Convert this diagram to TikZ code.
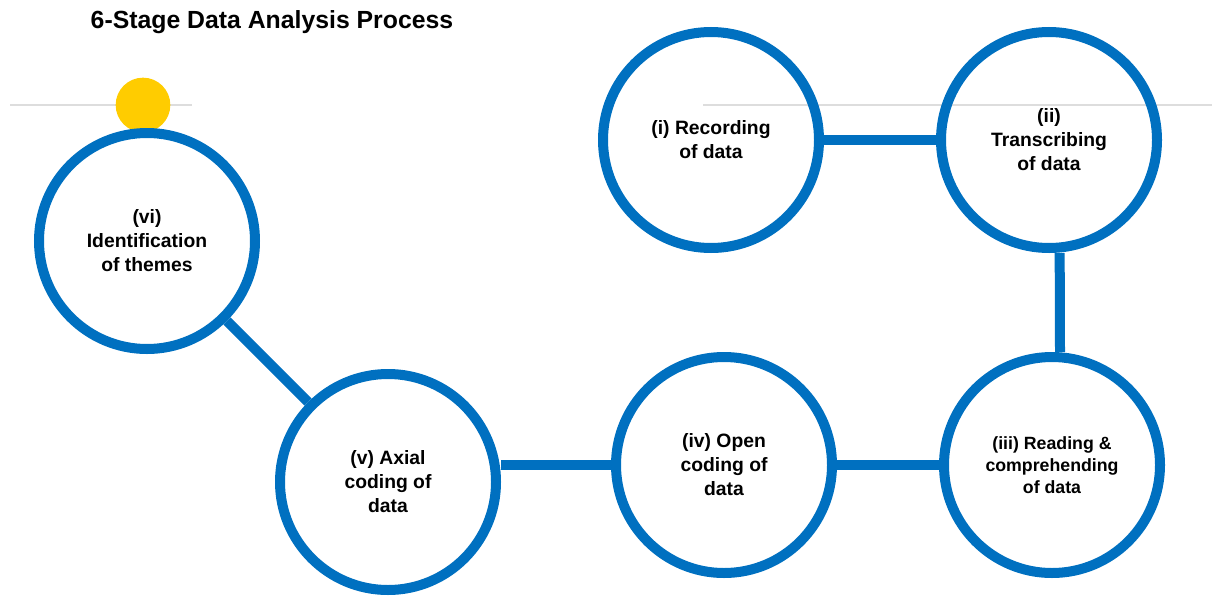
\documentclass[tikz,border=0pt]{standalone}
\usepackage{fontspec}
\setmainfont{Liberation Sans}
\usepackage{xcolor}
\definecolor{stageblue}{HTML}{0070C0}
\definecolor{dotyellow}{HTML}{FFCC00}
\definecolor{rulegray}{HTML}{DDDDDD}

\begin{document}
\begin{tikzpicture}[x=0.75pt, y=-0.75pt,
        stage/.style={circle, draw=stageblue, line width=7.5pt, minimum size=162pt, inner sep=0pt,
            align=center, font=\bfseries\fontsize{14.5}{18}\selectfont},
        link/.style={draw=stageblue, line width=7.5pt},
        rule/.style={draw=rulegray, line width=1.1pt}]
    \useasboundingbox (0,0) rectangle (1212,596);
    \node[anchor=west, font=\bfseries\fontsize{18.6}{22}\selectfont] (title) at (86,22) {6-Stage Data Analysis Process};

    \coordinate (ruleA) at (10,105);
    \coordinate (ruleB) at (192,105);
    \coordinate (ruleC) at (703,105);
    \coordinate (ruleD) at (1212,105);
    \draw[rule] (ruleA) -- (ruleB);
    \draw[rule] (ruleC) -- (ruleD);

    \node[circle, fill=dotyellow, minimum size=41pt, inner sep=0pt] (dot) at (143,105) {};

    \node[stage] (rec) at (711,140) {(i) Recording\\of data};
    \node[stage] (trans) at (1049,140) {(ii)\\Transcribing\\of data};
    \node[stage, font=\bfseries\fontsize{13.3}{16.5}\selectfont] (read) at (1052,465) {(iii) Reading \&\\comprehending\\of data};
    \node[stage] (open) at (724,465) {(iv) Open\\coding of\\data};
    \node[stage] (axial) at (388,482) {(v) Axial\\coding of\\data};
    \node[stage] (theme) at (147,241) {(vi)\\Identification\\of themes};

    \draw[link] (rec) -- (trans);
    \draw[link] ([xshift=8pt]trans.south) -- ([xshift=6pt]read.north);
    \draw[link] (read) -- (open);
    \draw[link] (open.west) -- (open.west -| axial.east);
    \draw[link] (theme) -- (axial);
\end{tikzpicture}
\end{document}
